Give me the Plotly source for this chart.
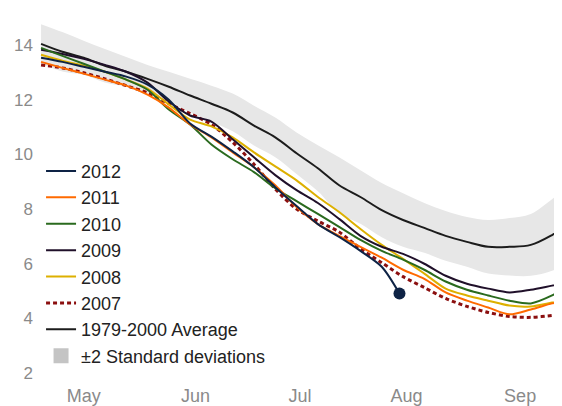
import plotly.graph_objects as go

# x = days counted from May 1 (sampled every 6 days)
days = [2, 8, 14, 20, 26, 32, 38, 44, 50, 56, 62, 68, 74, 80, 86, 92, 98, 104,
        110, 116, 122, 128, 134, 140, 146, 152]

avg_1979_2000 = [14.04, 13.75, 13.53, 13.24, 13.02, 12.76, 12.47, 12.15, 11.85, 11.53,
                 11.05, 10.62, 10.04, 9.49, 8.87, 8.44, 7.96, 7.60, 7.31, 7.02,
                 6.80, 6.62, 6.62, 6.69, 7.05, 7.56]
band_upper = [14.76, 14.47, 14.15, 13.85, 13.56, 13.27, 13.02, 12.76, 12.51, 12.22,
              11.78, 11.35, 10.80, 10.33, 9.89, 9.42, 8.95, 8.58, 8.22, 7.93,
              7.71, 7.60, 7.67, 7.82, 8.36, 8.91]
band_lower = [13.32, 13.03, 12.91, 12.63, 12.48, 12.25, 11.92, 11.54, 11.19, 10.84,
              10.32, 9.89, 9.28, 8.65, 7.85, 7.46, 6.97, 6.62, 6.40, 6.11,
              5.89, 5.64, 5.57, 5.56, 5.74, 6.21]

days_2012 = [2, 8, 14, 20, 26, 32, 38, 44, 50, 56, 62, 68, 74, 80, 86, 92, 98, 103]
ext_2012 = [13.53, 13.38, 13.20, 13.02, 12.84, 12.55, 12.00, 11.13, 10.65, 10.11,
            9.53, 8.80, 8.11, 7.45, 6.98, 6.47, 5.89, 4.91]
ext_2011 = [13.38, 13.16, 12.95, 12.73, 12.51, 12.18, 11.71, 11.09, 10.62, 10.07,
            9.53, 8.87, 8.07, 7.45, 7.02, 6.62, 6.22, 5.78, 5.45, 4.95,
            4.65, 4.40, 4.15, 4.33, 4.55, 4.73]
ext_2010 = [13.89, 13.60, 13.31, 13.02, 12.73, 12.36, 11.64, 11.09, 10.36, 9.82,
            9.35, 8.76, 8.29, 7.82, 7.35, 6.87, 6.47, 6.15, 5.78, 5.35,
            5.05, 4.84, 4.65, 4.55, 4.84, 5.30]
ext_2009 = [13.82, 13.67, 13.49, 13.27, 13.02, 12.62, 11.93, 11.42, 11.20, 10.55,
            9.89, 9.24, 8.69, 8.22, 7.64, 7.02, 6.62, 6.36, 6.00, 5.56,
            5.27, 5.09, 4.95, 5.05, 5.20, 5.35]
ext_2008 = [13.64, 13.42, 13.24, 13.02, 12.73, 12.40, 11.82, 11.27, 11.02, 10.62,
            10.07, 9.56, 9.05, 8.44, 7.89, 7.27, 6.69, 6.18, 5.64, 5.09,
            4.84, 4.65, 4.47, 4.44, 4.58, 4.73]
ext_2007 = [13.27, 13.16, 12.98, 12.76, 12.51, 12.25, 11.85, 11.49, 11.09, 10.44,
            9.64, 8.73, 8.00, 7.56, 7.16, 6.55, 6.04, 5.53, 5.13, 4.73,
            4.44, 4.22, 4.07, 4.04, 4.11, 4.22]

month_labels = ["May", "Jun", "Jul", "Aug", "Sep"]
month_days = [14, 45.5, 75, 105, 137]
y_ticks = [2, 4, 6, 8, 10, 12, 14]

FONT = "Liberation Sans, Arial, Helvetica, sans-serif"
fig = go.Figure()

# ±2 SD band
fig.add_trace(go.Scatter(x=days, y=band_lower, mode="lines", line=dict(width=0, shape="spline"),
                         showlegend=False, hoverinfo="skip"))
fig.add_trace(go.Scatter(x=days, y=band_upper, mode="lines", line=dict(width=0, shape="spline"),
                         fill="tonexty", fillcolor="#e7e7e7", showlegend=False, hoverinfo="skip"))
# legend entry for the band
fig.add_trace(go.Scatter(x=[None], y=[None], mode="markers",
                         marker=dict(symbol="square", size=15, color="#c4c4c4"),
                         name="\u00b12 Standard deviations", legendrank=8))

fig.add_trace(go.Scatter(x=days, y=avg_1979_2000, mode="lines", name="1979-2000 Average",
                         line=dict(color="#1c1c1c", width=2, shape="spline"), legendrank=7))

series = [
    ("2007", days, ext_2007, "#8b0f0f", 3, "4px,3px", 6),
    ("2008", days, ext_2008, "#ddb000", 2, None, 5),
    ("2009", days, ext_2009, "#20102a", 2, None, 4),
    ("2010", days, ext_2010, "#2a6a1e", 2, None, 3),
    ("2011", days, ext_2011, "#ff6a00", 2, None, 2),
    ("2012", days_2012, ext_2012, "#0e2345", 2, None, 1),
]
for name, xs, ys, color, w, dash, rank in series:
    line = dict(color=color, width=w, shape="spline", smoothing=0.8)
    if dash:
        line["dash"] = dash
    fig.add_trace(go.Scatter(x=xs, y=ys, mode="lines", name=name, line=line, legendrank=rank))

# end marker for 2012
fig.add_trace(go.Scatter(x=[days_2012[-1]], y=[ext_2012[-1]], mode="markers",
                         marker=dict(color="#0e2345", size=12), showlegend=False))

fig.update_layout(
    width=554, height=398,
    margin=dict(l=32, r=0, t=0, b=21),
    paper_bgcolor="white", plot_bgcolor="white",
    font=dict(family=FONT, color="#333"),
    showlegend=True,
    legend=dict(x=0.002, y=0.614, xanchor="left", yanchor="top",
                bgcolor="rgba(0,0,0,0)", font=dict(size=18, color="#222"),
                traceorder="normal"),
)
fig.update_xaxes(range=[1.7, 148.8], showgrid=False, zeroline=False, showline=False,
                 tickvals=month_days, ticktext=month_labels, ticks="",
                 tickfont=dict(size=18, color="#8a8a8a"))
fig.update_yaxes(range=[1.64, 15.35], showgrid=False, zeroline=False, showline=False,
                 tickvals=y_ticks, ticks="", ticklabelstandoff=6,
                 tickfont=dict(size=17, color="#8a8a8a"))

fig.write_html("out.html")
